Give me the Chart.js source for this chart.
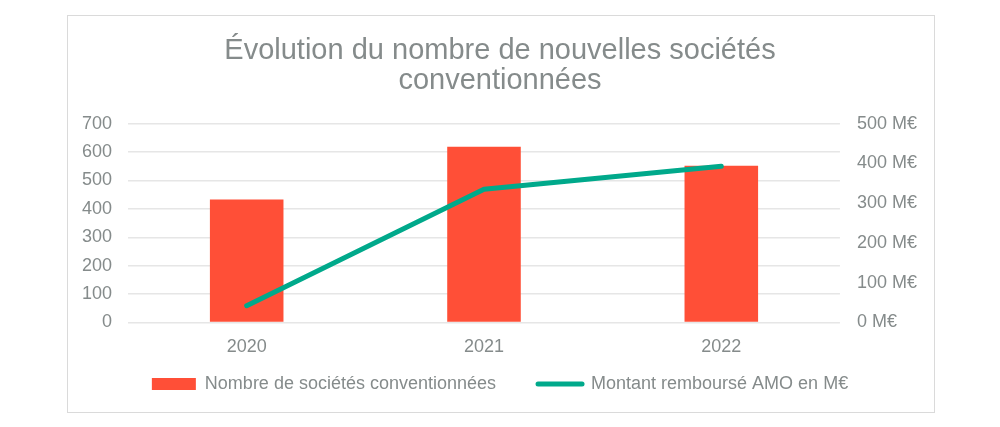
<!DOCTYPE html>
<html><head><meta charset="utf-8">
<script src="https://cdn.jsdelivr.net/npm/chart.js@4"></script>
<style>html,body{margin:0;padding:0;background:#fff}#wrap{position:absolute;left:0;top:0;width:1000px;height:427px}</style>
</head><body><div id="wrap"><canvas id="c"></canvas></div>
<script>
const categories = ['2020', '2021', '2022'];
const societes = [433, 619, 552];
const montantAMO = [42, 335, 393];
const leftTicks = [0, 100, 200, 300, 400, 500, 600, 700];
const rightTicks = [0, 100, 200, 300, 400, 500];
const rightSuffix = ' M€';
const seriesNames = ['Nombre de sociétés conventionnées', 'Montant remboursé AMO en M€'];
const titleLines = ['Évolution du nombre de nouvelles sociétés', 'conventionnées'];

const RED = '#FF4F37', TEAL = '#00A98B', TXT = '#858B8B', GRID = '#E6E6E6';
const FONT = 'Liberation Sans, Arial, sans-serif';
const TRIM = 31;

const frame = {
  id: 'frame',
  beforeDraw(chart) {
    const ctx = chart.ctx;
    ctx.save();
    ctx.strokeStyle = '#DADADA';
    ctx.lineWidth = 1;
    ctx.strokeRect(67.5, 15.5, 867, 397);
    ctx.restore();
  }
};
const legendTrim = {
  id: 'legendTrim',
  beforeLayout(chart) {
    const lg = chart.legend;
    if (lg && !lg._trimmed) {
      const f = lg.fit;
      lg.fit = function () { f.call(this); this.height -= TRIM; };
      lg._trimmed = true;
    }
  },
  afterLayout(chart) {
    const lg = chart.legend;
    if (lg) { lg.top -= TRIM; lg.height += TRIM; }
  }
};

new Chart(document.getElementById('c'), {
  data: {
    labels: categories,
    datasets: [
      { type: 'bar', label: seriesNames[0], data: societes, yAxisID: 'y', backgroundColor: RED,
        barPercentage: 0.31, categoryPercentage: 1, order: 2 },
      { type: 'line', label: seriesNames[1], data: montantAMO, yAxisID: 'y1', borderColor: TEAL,
        backgroundColor: TEAL, borderWidth: 5, pointRadius: 0, borderCapStyle: 'round',
        borderJoinStyle: 'round', tension: 0, order: 1 }
    ]
  },
  options: {
    responsive: true, maintainAspectRatio: false, animation: false,
    layout: { padding: { left: 66, right: 66, top: 36, bottom: 24 } },
    plugins: {
      tooltip: { enabled: false },
      title: { display: true, text: titleLines, color: TXT,
        font: { family: FONT, size: 29, weight: 'normal', lineHeight: 1.03 },
        padding: { top: 0, bottom: 28 } },
      legend: { position: 'bottom',
        labels: { usePointStyle: true, pointStyleWidth: 44, boxHeight: 12, color: TXT, padding: 42,
          font: { family: FONT, size: 18 },
          generateLabels: () => [
            { text: seriesNames[0], fillStyle: RED, strokeStyle: RED, lineWidth: 0, pointStyle: 'rect', fontColor: TXT, datasetIndex: 0 },
            { text: seriesNames[1], fillStyle: TEAL, strokeStyle: TEAL, lineWidth: 5, lineCap: 'round', pointStyle: 'line', fontColor: TXT, datasetIndex: 1 }
          ] } }
    },
    scales: {
      x: { grid: { display: false }, border: { display: false },
        ticks: { color: TXT, font: { family: FONT, size: 18 }, padding: 6 } },
      y: { position: 'left', min: leftTicks[0], max: leftTicks[leftTicks.length - 1],
        afterBuildTicks: s => { s.ticks = leftTicks.map(v => ({ value: v })); },
        grid: { color: GRID, lineWidth: 1.5, drawTicks: false }, border: { display: false },
        ticks: { color: TXT, font: { family: FONT, size: 18 }, padding: 16 } },
      y1: { position: 'right', min: rightTicks[0], max: rightTicks[rightTicks.length - 1],
        afterBuildTicks: s => { s.ticks = rightTicks.map(v => ({ value: v })); },
        grid: { drawOnChartArea: false, drawTicks: false }, border: { display: false },
        ticks: { color: TXT, font: { family: FONT, size: 18 }, padding: 17,
          callback: v => v + rightSuffix } }
    }
  },
  plugins: [frame, legendTrim]
});
</script></body></html>
